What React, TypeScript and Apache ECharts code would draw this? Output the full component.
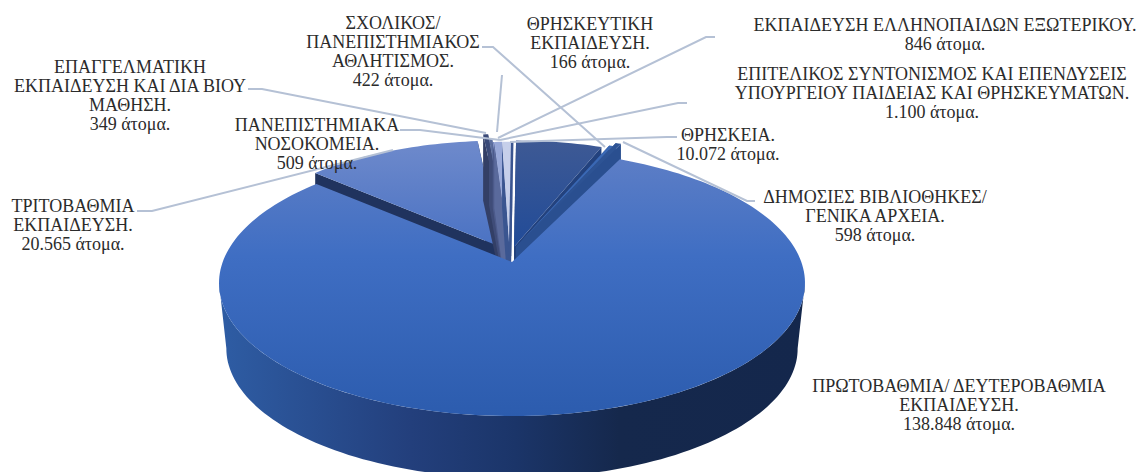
import React, { useEffect, useRef } from "react";
import * as echarts from "echarts";

// ---- data, in the pie's clockwise order from the top ----
const categories = [
  "ΘΡΗΣΚΕΙΑ",
  "ΣΧΟΛΙΚΟΣ/ ΠΑΝΕΠΙΣΤΗΜΙΑΚΟΣ ΑΘΛΗΤΙΣΜΟΣ",
  "ΔΗΜΟΣΙΕΣ ΒΙΒΛΙΟΘΗΚΕΣ/ ΓΕΝΙΚΑ ΑΡΧΕΙΑ",
  "ΠΡΩΤΟΒΑΘΜΙΑ/ ΔΕΥΤΕΡΟΒΑΘΜΙΑ ΕΚΠΑΙΔΕΥΣΗ",
  "ΤΡΙΤΟΒΑΘΜΙΑ ΕΚΠΑΙΔΕΥΣΗ",
  "ΠΑΝΕΠΙΣΤΗΜΙΑΚΑ ΝΟΣΟΚΟΜΕΙΑ",
  "ΕΠΑΓΓΕΛΜΑΤΙΚΗ ΕΚΠΑΙΔΕΥΣΗ ΚΑΙ ΔΙΑ ΒΙΟΥ ΜΑΘΗΣΗ",
  "ΘΡΗΣΚΕΥΤΙΚΗ ΕΚΠΑΙΔΕΥΣΗ",
  "ΕΚΠΑΙΔΕΥΣΗ ΕΛΛΗΝΟΠΑΙΔΩΝ ΕΞΩΤΕΡΙΚΟΥ",
  "ΕΠΙΤΕΛΙΚΟΣ ΣΥΝΤΟΝΙΣΜΟΣ ΚΑΙ ΕΠΕΝΔΥΣΕΙΣ ΥΠΟΥΡΓΕΙΟΥ ΠΑΙΔΕΙΑΣ ΚΑΙ ΘΡΗΣΚΕΥΜΑΤΩΝ",
];
const values = [10072, 422, 598, 138848, 20565, 509, 349, 166, 846, 1100];
const labelLines = [
  ["ΘΡΗΣΚΕΙΑ.", "10.072 άτομα."],
  ["ΣΧΟΛΙΚΟΣ/", "ΠΑΝΕΠΙΣΤΗΜΙΑΚΟΣ", "ΑΘΛΗΤΙΣΜΟΣ.", "422 άτομα."],
  ["ΔΗΜΟΣΙΕΣ ΒΙΒΛΙΟΘΗΚΕΣ/", "ΓΕΝΙΚΑ ΑΡΧΕΙΑ.", "598 άτομα."],
  ["ΠΡΩΤΟΒΑΘΜΙΑ/ ΔΕΥΤΕΡΟΒΑΘΜΙΑ", "ΕΚΠΑΙΔΕΥΣΗ.", "138.848 άτομα."],
  ["ΤΡΙΤΟΒΑΘΜΙΑ", "ΕΚΠΑΙΔΕΥΣΗ.", "20.565 άτομα."],
  ["ΠΑΝΕΠΙΣΤΗΜΙΑΚΑ", "ΝΟΣΟΚΟΜΕΙΑ.", "509 άτομα."],
  ["ΕΠΑΓΓΕΛΜΑΤΙΚΗ", "ΕΚΠΑΙΔΕΥΣΗ ΚΑΙ ΔΙΑ ΒΙΟΥ", "ΜΑΘΗΣΗ.", "349 άτομα."],
  ["ΘΡΗΣΚΕΥΤΙΚΗ", "ΕΚΠΑΙΔΕΥΣΗ.", "166 άτομα."],
  ["ΕΚΠΑΙΔΕΥΣΗ ΕΛΛΗΝΟΠΑΙΔΩΝ ΕΞΩΤΕΡΙΚΟΥ.", "846 άτομα."],
  ["ΕΠΙΤΕΛΙΚΟΣ ΣΥΝΤΟΝΙΣΜΟΣ ΚΑΙ ΕΠΕΝΔΥΣΕΙΣ", "ΥΠΟΥΡΓΕΙΟΥ ΠΑΙΔΕΙΑΣ ΚΑΙ ΘΡΗΣΚΕΥΜΑΤΩΝ.", "1.100 άτομα."],
];

// ---- layout and style, per slice ----
const START_ANGLE = 0.5;
const APEX = [512, 262];
const A = 289.3, B = 129.7, P = 0.158, DEPTH = 66, BOTTOM_SCALE = 0.975;
const sliceOffset = [[2, -15], [4, -15], [4, -15], [0, 0], [-11, -15], [-2, -6], [-2, -6], [-2, -6], [-2, -6], [-2, -6]];
const sliceRadius = [0.95, 0.97, 1.0, 1, 0.95, 1.09, 1.05, 1.02, 1.02, 1.02];
const sliceAngleShift = [0, 1, 1, 0, 0, 0, 0, 0, 0, 0];
const sliceStartTrim = [0, 0, 0, 1.7, 0, 0, 0, 0, 0, 0];
const sliceOrder = [2, 3, 4, 10, 1, 5, 6, 7, 8, 9];
const topStops = [
  [[0, "#3f5a94"], [1, "#214b98"]],
  [[0, "#3a68b4"], [1, "#3a68b4"]],
  [[0, "#2f5596"], [1, "#2a4f90"]],
  [[0, "#5f7fc6"], [0.4, "#3f6ec3"], [1, "#2c5cae"]],
  [[0, "#708bcc"], [1, "#4a72c3"]],
  [[0, "#3a4a78"], [1, "#3a4a78"]],
  [[0, "#5d6f9f"], [1, "#5d6f9f"]],
  [[0, "#7c8ec6"], [1, "#7c8ec6"]],
  [[0, "#98a8d8"], [1, "#98a8d8"]],
  [[0, "#c6cfea"], [1, "#c6cfea"]],
];
const wallColors = ["#23427e", "#2a4f90", "#2a4f90", "#1c3a70", "#20335e", "#333f66", "#3f4c78", "#4c5a8a", "#5a6a9c", "#3a5590"];
const labelCenters = [728, 393, 875, 959, 73, 317, 130, 590, 945, 932];
const labelFirstY = [135, 23, 197, 386, 206, 125, 67, 24, 25, 74];
const labelStep = 19;
const LEADER = "#b5c1d5";
const leaders = [
  [[677, 137], [667, 137], [510, 142]],
  [[482, 47], [493, 47], [605, 147]],
  [[755, 201], [747, 201], [623, 142]],
  [],
  [[137, 211], [152, 211], [393, 150]],
  [[400, 130], [420, 130], [500, 140]],
  [[248, 89], [262, 89], [486, 133]],
  [[502, 75], [497, 132]],
  [[715, 37], [706, 37], [498, 138]],
  [[687, 103], [678, 103], [500, 140]],
];

const TOTAL = values.reduce((a, b) => a + b, 0);
const rad = (d: number) => (d * Math.PI) / 180;

function project(theta: number, i: number, scale = 1, drop = 0) {
  const u = Math.sin(rad(theta));
  const v = -Math.cos(rad(theta));
  const w = 1 - P * v;
  const r = sliceRadius[i] * scale;
  return [
    APEX[0] + sliceOffset[i][0] + (r * A * u) / w,
    APEX[1] + sliceOffset[i][1] + drop + (r * B * v) / w,
  ];
}
function arc(a0: number, a1: number, i: number, scale = 1, drop = 0) {
  const n = Math.max(2, Math.ceil(Math.abs(a1 - a0) / 1.5));
  const pts: number[][] = [];
  for (let k = 0; k <= n; k++) pts.push(project(a0 + ((a1 - a0) * k) / n, i, scale, drop));
  return pts;
}

function renderItem(params: any, api: any) {
  const i = params.dataIndex;
  let a0 = START_ANGLE;
  for (let k = 0; k < i; k++) a0 += (values[k] / TOTAL) * 360;
  let a1 = a0 + (api.value(0) / TOTAL) * 360;
  a0 += sliceAngleShift[i] + sliceStartTrim[i];
  a1 += sliceAngleShift[i];
  const apexTop = [APEX[0] + sliceOffset[i][0], APEX[1] + sliceOffset[i][1]];
  const apexBot = [apexTop[0], apexTop[1] + DEPTH];
  const z = sliceOrder[i] * 10;
  const children: any[] = [];
  if (i !== 3) {
    const pe = project(a1, i);
    const ps = project(a0, i);
    children.push({
      type: "polygon", z2: z,
      shape: { points: [apexTop, ps, [ps[0], ps[1] + DEPTH], apexBot] },
      style: { fill: wallColors[i] }, silent: true,
    });
    children.push({
      type: "polygon", z2: z + 1,
      shape: { points: [apexTop, pe, [pe[0], pe[1] + DEPTH], apexBot] },
      style: { fill: wallColors[i] }, silent: true,
    });
  }
  const w0 = Math.max(a0, 99), w1 = Math.min(a1, 261);
  if (w1 > w0) {
    const top = arc(w0, w1, i);
    const bot = arc(w1, w0, i, BOTTOM_SCALE, DEPTH);
    children.push({
      type: "polygon", z2: z + 2,
      shape: { points: top.concat(bot) },
      style: {
        fill: new echarts.graphic.LinearGradient(225, 0, 805, 0, [
          { offset: 0, color: "#2e5ca3" },
          { offset: 0.32, color: "#233f7c" },
          { offset: 0.5, color: "#1b3569" },
          { offset: 0.68, color: "#15284c" },
          { offset: 1, color: "#14274c" },
        ], true),
      },
      silent: true,
    });
  }
  const y0 = apexTop[1] - B * sliceRadius[i] * 0.9;
  children.push({
    type: "polygon", z2: z + 3,
    shape: { points: [apexTop].concat(arc(a0, a1, i)) },
    style: {
      fill: new echarts.graphic.LinearGradient(0, i === 3 ? 150 : y0, 0, i === 3 ? 416 : apexTop[1],
        topStops[i].map((s: any) => ({ offset: s[0], color: s[1] })), true),
    },
    silent: true,
  });
  if (i === values.length - 1) {
    children.push({
      type: "polyline", z2: z + 4,
      shape: { points: [apexTop, project(a1, i)] },
      style: { stroke: wallColors[i], lineWidth: 2.5, fill: "none" },
      silent: true,
    });
  }
  return { type: "group", children };
}

export default function App() {
  const ref = useRef<HTMLDivElement>(null);
  useEffect(() => {
    document.body.style.margin = "0";
    const chart = echarts.init(ref.current!, undefined, { renderer: "svg" });
    const graphics: any[] = [];
    leaders.forEach((pts) => {
      if (pts.length)
        graphics.push({
          type: "polyline", z: 100, silent: true,
          shape: { points: pts },
          style: { stroke: LEADER, lineWidth: 2, fill: "none" },
        });
    });
    labelLines.forEach((lines, i) => {
      lines.forEach((t, k) => {
        graphics.push({
          type: "text", z: 101, silent: true,
          style: {
            text: t,
            x: labelCenters[i],
            y: labelFirstY[i] + k * labelStep,
            align: "center",
            verticalAlign: "middle",
            fill: "#2b2b2b",
            font: '18px "Liberation Serif"',
          },
        });
      });
    });
    chart.setOption({
      animation: false,
      backgroundColor: "#ffffff",
      series: [
        {
          type: "custom",
          coordinateSystem: "none",
          renderItem,
          clip: false,
          silent: true,
          data: values.map((v, i) => ({ name: categories[i], value: [v] })),
        },
      ],
      graphic: { elements: graphics },
    });
    return () => chart.dispose();
  }, []);
  return <div ref={ref} style={{ width: 1139, height: 472, overflow: "hidden" }} />;
}
